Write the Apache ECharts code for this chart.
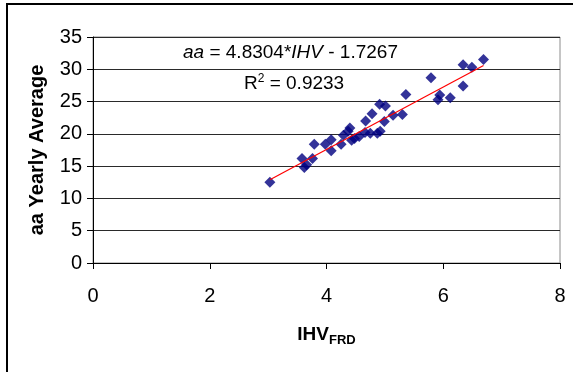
<!DOCTYPE html>
<html>
<head>
<meta charset="utf-8">
<script src="https://cdn.jsdelivr.net/npm/echarts@6/dist/echarts.min.js"></script>
<style>
html,body{margin:0;padding:0;background:#fff;}
#main{width:573px;height:372px;}
</style>
</head>
<body>
<div id="main"></div>
<script>
// IHV_FRD values (x)
var ihv = [3.03, 3.58, 3.62, 3.66, 3.76, 3.79, 3.98, 4.08, 4.08, 4.25, 4.29, 4.37,
	4.40, 4.43, 4.48, 4.56, 4.66, 4.67, 4.75, 4.78, 4.87, 4.92, 4.91, 4.99,
	5.01, 5.14, 5.30, 5.36, 5.79, 5.91, 5.94, 6.12, 6.34, 6.34, 6.49, 6.69];
// aa yearly average (y)
var aaAvg = [12.5, 16.2, 14.8, 15.2, 16.2, 18.4, 18.4, 19.1, 17.4, 18.4, 19.8, 20.4,
	20.9, 19.0, 19.3, 19.6, 20.2, 22.0, 20.1, 23.1, 20.1, 20.4, 24.6, 21.9,
	24.3, 22.9, 23.0, 26.1, 28.7, 25.3, 26.0, 25.6, 30.7, 27.4, 30.3, 31.5];
// trend line ends
var trendX = [3.03, 6.69];
var trendY = [12.9, 30.6];

var xTicks = [0, 2, 4, 6, 8];
var yTicks = [0, 5, 10, 15, 20, 25, 30, 35];

var FONT = "'Liberation Sans', Arial, sans-serif";

var points = [];
for (var i = 0; i < ihv.length; i++) {
	points.push([ihv[i], aaAvg[i]]);
}
var trend = [];
for (var j = 0; j < trendX.length; j++) {
	trend.push([trendX[j], trendY[j]]);
}

var myChart = echarts.init(document.getElementById('main'));
myChart.setOption({
	animation: false,
	backgroundColor: '#fff',
	grid: {
		left: 93, right: 13, top: 37, bottom: 109,
		show: true, borderColor: '#8c8c8c', borderWidth: 1
	},
	xAxis: {
		type: 'value',
		min: xTicks[0], max: xTicks[xTicks.length - 1], interval: 2,
		name: '{b|IHV}{s|FRD}',
		nameLocation: 'middle',
		nameGap: 60,
		nameTextStyle: {
			rich: {
				b: {fontFamily: FONT, fontSize: 19, fontWeight: 'bold', color: '#000'},
				s: {fontFamily: FONT, fontSize: 13, fontWeight: 'bold', color: '#000', padding: [11, 0, 0, 0]}
			}
		},
		axisLine: {show: true, onZero: false, lineStyle: {color: '#000', width: 1}},
		axisTick: {show: true, inside: false, length: 6, lineStyle: {color: '#000'}},
		axisLabel: {fontFamily: FONT, fontSize: 20, color: '#000', margin: 23},
		splitLine: {show: false}
	},
	yAxis: {
		type: 'value',
		min: yTicks[0], max: yTicks[yTicks.length - 1], interval: 5,
		name: 'aa Yearly Average',
		nameLocation: 'middle',
		nameGap: 46,
		nameTextStyle: {fontFamily: FONT, fontSize: 20, fontWeight: 'bold', color: '#000'},
		axisLine: {show: true, onZero: false, lineStyle: {color: '#000', width: 1}},
		axisTick: {show: true, inside: false, length: 6, lineStyle: {color: '#000'}},
		axisLabel: {fontFamily: FONT, fontSize: 20, color: '#000', margin: 11},
		splitLine: {show: true, lineStyle: {color: '#2a2a2a', width: 1}}
	},
	graphic: [
		{
			type: 'rect', silent: true,
			shape: {x: 7, y: 4, width: 600, height: 400},
			style: {fill: 'none', stroke: '#000', lineWidth: 2}
		},
		{
			type: 'text', silent: true, x: 183, y: 53,
			style: {
				text: '{i|aa}{n| = 4.8304*}{i|IHV}{n| - 1.7267}',
				verticalAlign: 'middle',
				rich: {
					i: {fontFamily: FONT, fontSize: 19, fontStyle: 'italic', fill: '#000'},
					n: {fontFamily: FONT, fontSize: 19, fill: '#000'}
				}
			}
		},
		{
			type: 'text', silent: true, x: 244, y: 84,
			style: {
				text: '{n|R}{sup|2}{n| = 0.9233}',
				verticalAlign: 'middle',
				rich: {
					n: {fontFamily: FONT, fontSize: 19, fill: '#000'},
					sup: {fontFamily: FONT, fontSize: 12, fill: '#000', padding: [0, 0, 10, 0]}
				}
			}
		}
	],
	series: [
		{
			type: 'scatter',
			data: points,
			symbol: 'diamond',
			symbolSize: 11,
			itemStyle: {color: '#000080'},
			z: 3
		},
		{
			type: 'line',
			data: trend,
			symbol: 'none',
			lineStyle: {color: '#ff0000', width: 1.2},
			z: 4
		}
	]
});
</script>
</body>
</html>
